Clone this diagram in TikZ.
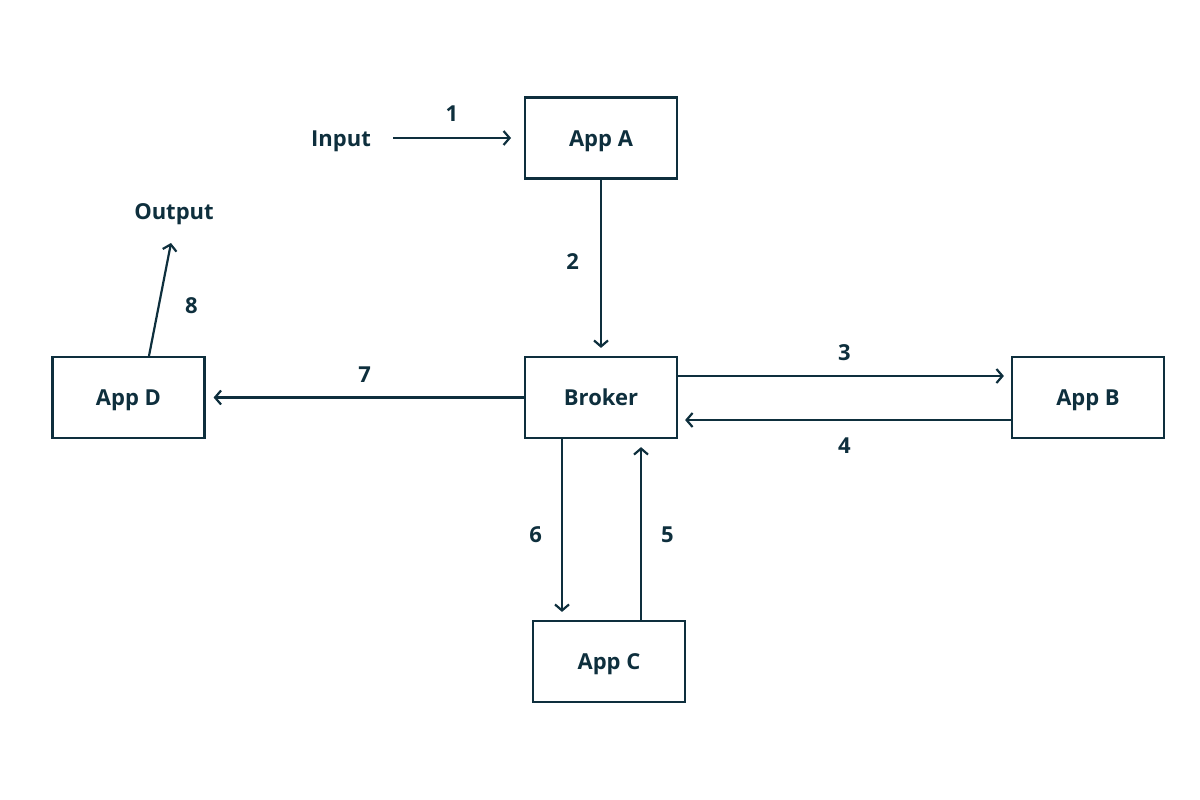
\documentclass[tikz,border=0pt]{standalone}
\usepackage{fontspec}
\setmainfont{Open Sans}
\usetikzlibrary{arrows.meta}
\definecolor{ink}{HTML}{0E2F3D}
\begin{document}
\begin{tikzpicture}[x=1pt,y=-1pt,
  box/.style={draw=ink,line width=2.2pt,minimum width=152pt,minimum height=81pt,inner sep=0pt,text=ink,text height=16pt,text depth=0pt,font=\fontsize{22}{26}\selectfont\bfseries},
  lbl/.style={text=ink,font=\fontsize{22}{26}\selectfont\bfseries,text height=16pt,text depth=0pt,inner sep=0pt},
  arr/.style={draw=ink,line width=2.2pt,-{Straight Barb[length=6pt,width=14pt,line width=2.2pt]}}]
\useasboundingbox (0,0) rectangle (1200,800);
\node[box] (A) at (601,138) {App A};
\node[box] (K) at (601,397.5) {Broker};
\node[box] (B) at (1088,397.5) {App B};
\node[box] (D) at (128.5,397.5) {App D};
\node[box] (C) at (609,661.5) {App C};
\node[lbl] (in) at (341,138) {Input};
\node[lbl] (out) at (174,211) {Output};
\coordinate (i1) at (393,138);
\coordinate (i2) at (511,138);
\draw[arr] (i1) -- (i2) node[lbl,midway,above=15pt] {1};
\draw[arr,shorten >=8pt] (A.south) -- (K.north) node[lbl,pos=0.465,left=21pt] {2};
\draw[arr,shorten >=7pt] ([yshift=21.5pt]K.east) -- ([yshift=21.5pt]B.west) node[lbl,midway,above=14pt] {3};
\draw[arr,shorten >=7pt] ([yshift=-22.5pt]B.west) -- ([yshift=-22.5pt]K.east) node[lbl,midway,below=16.5pt] {4};
\draw[arr,shorten >=8pt] ([xshift=32pt]C.north) -- ([xshift=40pt]K.south) node[lbl,pos=0.47,right=19pt] {5};
\draw[arr,shorten >=8pt] ([xshift=-39pt]K.south) -- ([xshift=-47pt]C.north) node[lbl,pos=0.53,left=19pt] {6};
\draw[arr,shorten >=8pt] (K.west) -- (D.east) node[lbl,midway,above=14pt] {7};
\coordinate (o8) at (171,243);
\draw[arr] ([xshift=20.5pt]D.north) -- (o8) node[lbl,pos=0.45,right=25pt] {8};
\end{tikzpicture}
\end{document}
